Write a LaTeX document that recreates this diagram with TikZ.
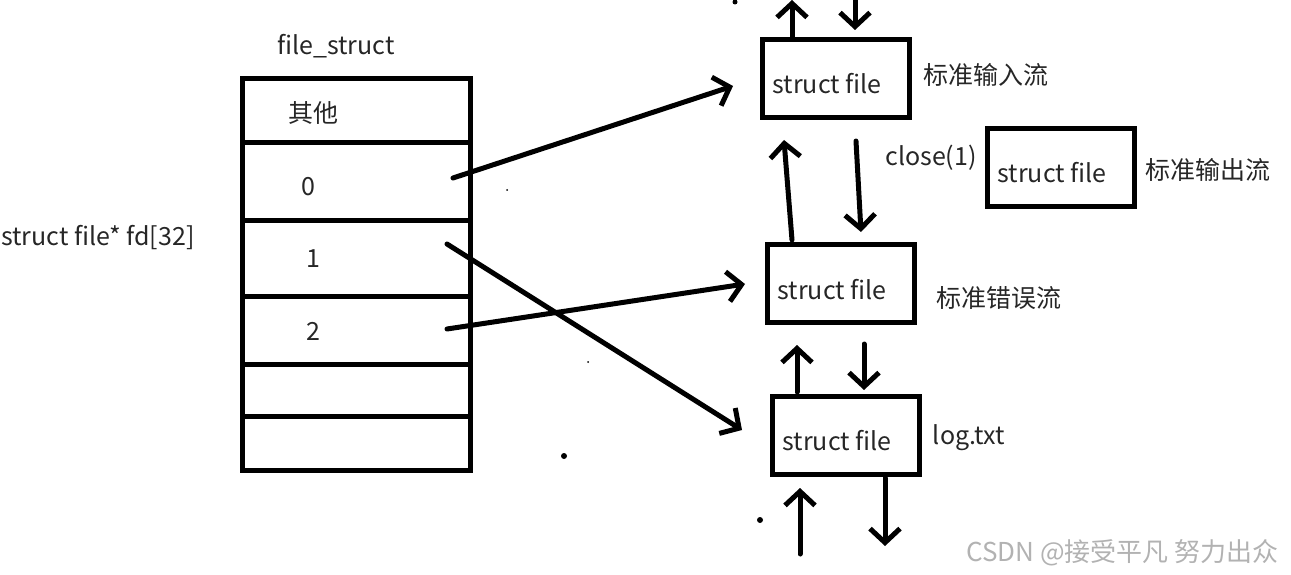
\documentclass[tikz,border=0pt]{standalone}
\usepackage{fontspec}
\setmainfont{Noto Sans CJK SC}
\usetikzlibrary{arrows.meta}
\tikzset{
  cell/.style={draw, line width=5pt, minimum width=228pt, inner sep=0pt, anchor=north west},
  fbox/.style={draw, line width=5pt, minimum width=147pt, minimum height=78pt, inner sep=0pt, anchor=north west},
  lbl/.style={inner sep=0pt, font=\fontsize{25}{28}\selectfont, text=black!85},
  ptr/.style={line width=5pt, line cap=round, -{Straight Barb[length=14pt,width=30pt,line width=5pt]}},
  dot/.style={circle, fill=black, inner sep=0pt, minimum size=#1},
}
\begin{document}
\begin{tikzpicture}[x=1pt,y=-1pt]
\useasboundingbox (0,0) rectangle (1291,575);
% table cells
\node[cell, minimum height=64pt] (r0) at (240,76) {};
\node[cell, minimum height=78pt] (r1) at (240,140) {};
\node[cell, minimum height=76pt] (r2) at (240,218) {};
\node[cell, minimum height=68pt] (r3) at (240,294) {};
\node[cell, minimum height=52pt] (r4) at (240,362) {};
\node[cell, minimum height=54pt] (r5) at (240,414) {};
% labels
\node[lbl] (title) at (336,46) {file\_struct};
\node[lbl] (t0) at (313,113) {其他};
\node[lbl] (t1) at (308,187) {0};
\node[lbl] (t2) at (313,259) {1};
\node[lbl] (t3) at (313,331) {2};
\node[lbl, anchor=west] (fd) at (1,238) {struct file* fd[32]};
% struct file boxes
\node[fbox] (A) at (760,37) {};
\node[lbl] (Atxt) at (827,84) {struct file};
\node[lbl] (Alab) at (986,75) {标准输入流};
\node[fbox] (O) at (985,126) {};
\node[lbl] (Otxt) at (1052,173) {struct file};
\node[lbl] (Olab) at (1208,170) {标准输出流};
\node[lbl] (close) at (931,158) {close(1)};
\node[fbox] (B) at (765,242) {};
\node[lbl] (Btxt) at (832,290) {struct file};
\node[lbl] (Blab) at (999,298) {标准错误流};
\node[fbox] (C) at (770,394) {};
\node[lbl] (Ctxt) at (837,441) {struct file};
\node[lbl] (Clab) at (969,438) {log.txt};
% pointer arrows
\coordinate (p0) at (453,178);
\coordinate (p1) at (447,244);
\coordinate (p2) at (447,329);
\coordinate (e0) at (733,86);
\coordinate (e1) at (742,430);
\coordinate (e2) at (745,284);
\draw[ptr] (p0) -- (e0);
\draw[ptr] (p1) -- (e1);
\draw[ptr] (p2) -- (e2);
% small up/down arrows
\coordinate (a1) at (792,37); \coordinate (a1e) at (792,0);
\coordinate (a2) at (855,-2); \coordinate (a2e) at (855,30);
\draw[ptr] (a1) -- (a1e);
\draw[ptr] (a2) -- (a2e);
\coordinate (b1) at (792,240); \coordinate (b1e) at (784,140);
\coordinate (b2) at (856,141); \coordinate (b2e) at (861,232);
\draw[ptr] (b1) -- (b1e);
\draw[ptr] (b2) -- (b2e);
\coordinate (c1) at (797,392); \coordinate (c1e) at (797,345);
\coordinate (c2) at (864,344); \coordinate (c2e) at (864,390);
\draw[ptr] (c1) -- (c1e);
\draw[ptr] (c2) -- (c2e);
\coordinate (d1) at (800,554); \coordinate (d1e) at (800,488);
\coordinate (d2) at (885,478); \coordinate (d2e) at (885,546);
\draw[ptr] (d1) -- (d1e);
\draw[ptr] (d2) -- (d2e);
% stray dots
\node[dot=5pt] (s1) at (735,2) {};
\node[dot=2pt] (s2) at (507,190) {};
\node[dot=2pt] (s3) at (588,362) {};
\node[dot=6pt] (s4) at (564,456) {};
\node[dot=6pt] (s5) at (760,520) {};
% watermark
\node[inner sep=0pt, anchor=east, font=\fontsize{26}{30}\selectfont, text=black!30] (wm) at (1279,553) {CSDN @接受平凡 努力出众};
\end{tikzpicture}
\end{document}
